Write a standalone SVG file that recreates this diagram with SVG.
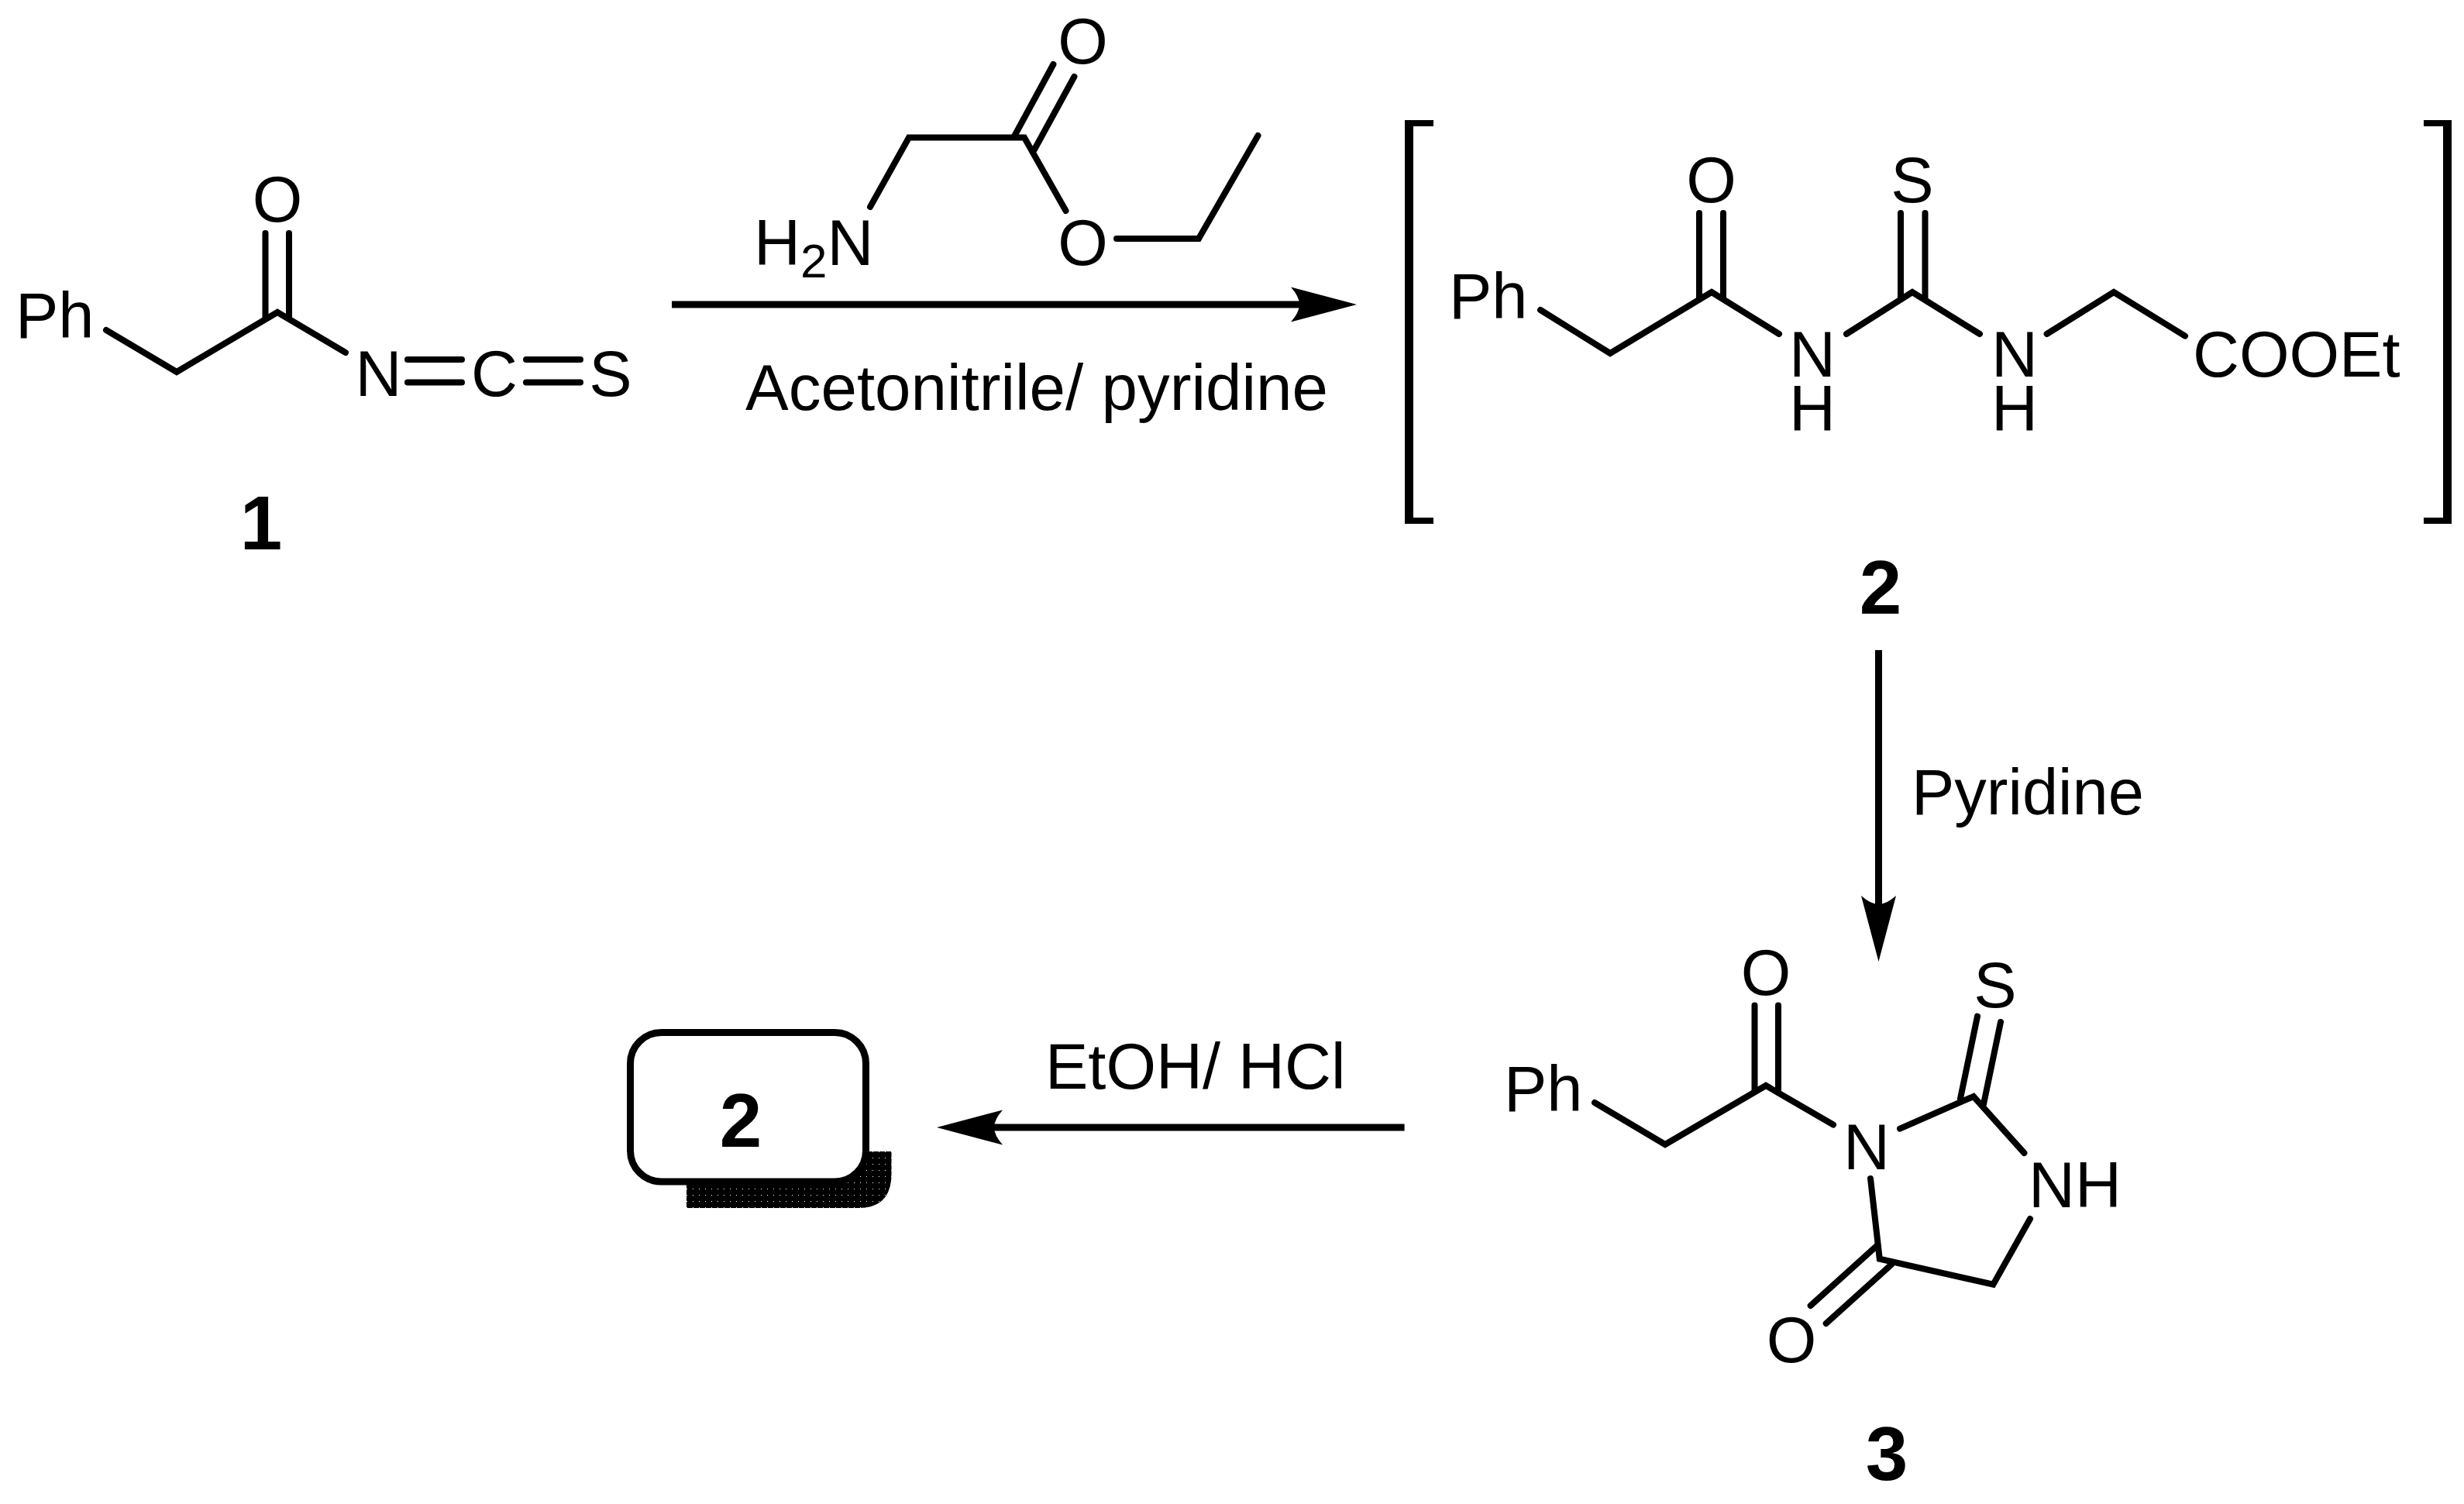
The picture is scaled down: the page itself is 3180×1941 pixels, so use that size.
<svg xmlns="http://www.w3.org/2000/svg" width="3180" height="1941" viewBox="0 0 3180 1941">
<style>
text{font-family:"Liberation Sans",Arial,sans-serif;font-size:83px;fill:#000}
.m{text-anchor:middle}
.lab{font-weight:bold;font-size:98px;text-anchor:middle}
.b{fill:none;stroke:#000;stroke-width:8;stroke-linecap:round;stroke-linejoin:miter}
.br{fill:#000}
.arr{fill:none;stroke:#000;stroke-width:9;marker-end:url(#head)}
</style>
<defs>
<marker id="head" markerUnits="userSpaceOnUse" markerWidth="90" markerHeight="50" viewBox="0 -25 90 50" refX="11" refY="0" orient="auto" overflow="visible">
<path d="M0,-22.5 L85,0 L0,22.5 Q11,10 11,0 Q11,-10 0,-22.5Z" fill="#000"/>
</marker>
<pattern id="dots" patternUnits="userSpaceOnUse" width="8" height="8">
<rect width="8" height="8" fill="#000"/><rect x="6" y="6" width="1" height="1" fill="#fff"/>
</pattern>
</defs>
<rect width="3180" height="1941" fill="#fff"/>

<g id="compound-1">
<path class="b" d="M137,426 L228,480 L358,403 L446,455"/>
<path class="b" d="M342.5,301 V410 M373,301 V410"/>
<path class="b" d="M526,464 H596 M526,493.5 H596 M679,464 H749 M679,493.5 H749"/>
<text x="20" y="436">Ph</text>
<text class="m" x="358" y="286">O</text>
<text class="m" x="488.5" y="511">N</text>
<text class="m" x="638" y="511">C</text>
<text class="m" x="788" y="511">S</text>
<text class="lab" x="337" y="709">1</text>
</g>

<g id="reagent-glycine-ester">
<path class="b" d="M1123,267 L1173,177.5 H1322 L1375.5,272"/>
<path class="b" d="M1359.4,83 L1309.5,175 M1386.4,99 L1335,193"/>
<path class="b" d="M1441,308 H1547 L1623.5,175"/>
<text class="m" x="1397.5" y="82">O</text>
<text class="m" x="1397.5" y="342">O</text>
<text x="973" y="342">H<tspan style="font-size:62px" dy="16">2</tspan><tspan dy="-16">N</tspan></text>
</g>

<g id="compound-2">
<path class="br" d="M1813,155 H1850 V163 H1824 V668 H1850 V676 H1813Z"/>
<path class="br" d="M3164,155 H3128 V163 H3153 V668 H3128 V676 H3164Z"/>
<path class="b" d="M1988,400 L2078,456 L2209,377 L2296,431"/>
<path class="b" d="M2383,431 L2468,377 L2555,431"/>
<path class="b" d="M2641.6,431 L2728,377 L2820,433.6"/>
<path class="b" d="M2193,275 V384 M2224,275 V384 M2453,275 V384 M2484.5,275 V384"/>
<text x="1870" y="411">Ph</text>
<text class="m" x="2208.6" y="261">O</text>
<text class="m" x="2468" y="261">S</text>
<text class="m"><tspan x="2339" y="486">N</tspan><tspan x="2339" y="556">H</tspan></text>
<text class="m"><tspan x="2600" y="486">N</tspan><tspan x="2600" y="556">H</tspan></text>
<text x="2830" y="486">COOEt</text>
<text class="lab" x="2427" y="792">2</text>
</g>

<g id="compound-3">
<path class="b" d="M2058,1423 L2149,1477 L2279,1401 L2366,1451.5"/>
<path class="b" d="M2264.5,1297.5 V1408 M2295,1297.5 V1408"/>
<path class="b" d="M2452,1456.6 L2547,1415 L2612.4,1488"/>
<path class="b" d="M2552,1311.6 L2530,1417.7 M2582,1319 L2560,1425"/>
<path class="b" d="M2620,1573 L2572.4,1657.6 L2425.8,1624.7 L2414,1521"/>
<path class="b" d="M2423,1607 L2336.7,1685 M2441,1632 L2356.7,1708"/>
<text x="1941" y="1434">Ph</text>
<text class="m" x="2279" y="1284">O</text>
<text class="m" x="2409" y="1508.5">N</text>
<text class="m" x="2575" y="1300">S</text>
<text x="2618" y="1558">NH</text>
<text class="m" x="2312" y="1758">O</text>
<text class="lab" x="2435" y="1910">3</text>
</g>

<g id="product-box">
<path fill="url(#dots)" d="M886,1486 H1150.5 V1515 Q1150.5,1559 1108,1559 H886Z"/>
<rect x="813.5" y="1332.5" width="304" height="192.5" rx="40" ry="40" fill="#fff" stroke="#000" stroke-width="9"/>
<text class="lab" x="956" y="1480">2</text>
</g>

<g id="connectors">
<line class="arr" x1="867" y1="393" x2="1677" y2="393"/>
<line class="arr" x1="2424.5" y1="839" x2="2424.5" y2="1167"/>
<line class="arr" x1="1812.6" y1="1455" x2="1283" y2="1455"/>
</g>

<g id="reaction-labels">
<text x="962" y="529" style="font-size:83.5px">Acetonitrile/ pyridine</text>
<text x="2467" y="1051">Pyridine</text>
<text x="1349" y="1405">EtOH/ HCl</text>
</g>
</svg>
